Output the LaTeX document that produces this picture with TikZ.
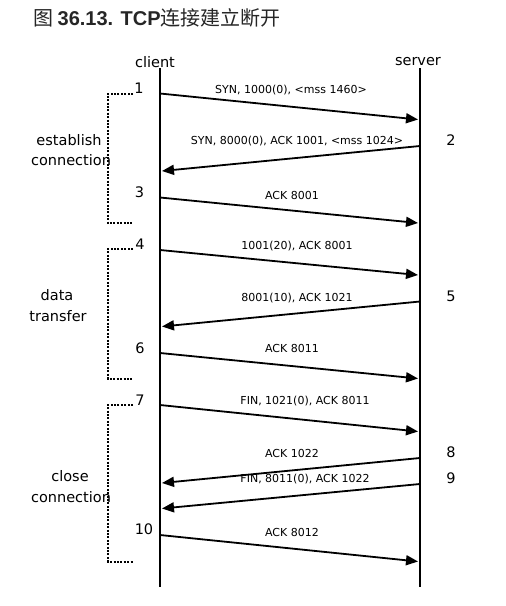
\documentclass[tikz,border=0pt]{standalone}
\usepackage{fontspec}
\setmainfont{DejaVu Sans}
\newfontfamily\cjk{Noto Sans CJK SC}
\newfontfamily\lib{Liberation Sans}
\usetikzlibrary{arrows.meta}
\begin{document}
\begin{tikzpicture}[x=1pt,y=-1pt,
  life/.style={line width=2.3pt},
  msg/.style={line width=1.8pt,-{Triangle[length=12pt,width=10pt]}},
  lbl/.style={inner sep=0pt,font=\fontsize{11}{13}\selectfont},
  num/.style={inner sep=0pt,font=\fontsize{14.5}{17}\selectfont},
  side/.style={inner sep=0pt,font=\fontsize{14.5}{17}\selectfont,align=center},
  brk/.style={line width=2pt,dash pattern=on 2pt off 1.4pt}]
\useasboundingbox (0,0) rectangle (506,606);
% title
\node[anchor=west,inner sep=0pt,text=black!85] (title) at (33,18)
  {\fontsize{20}{24}\selectfont\cjk 图 \lib\bfseries 36.13. TCP\mdseries\cjk 连接建立断开};
% lifelines
\node[num] (client) at (155,62) {client};
\node[num] (server) at (418,62) {server};
\coordinate (ctop) at (160,68);
\coordinate (cbot) at (160,587);
\coordinate (stop) at (420,68);
\coordinate (sbot) at (420,587);
\draw[life] (ctop) -- (cbot);
\draw[life] (stop) -- (sbot);
% message endpoints
\coordinate (a1) at (160,93.5);  \coordinate (b1) at (418,119.5);
\coordinate (a2) at (420,146);   \coordinate (b2) at (162,171);
\coordinate (a3) at (160,197.5); \coordinate (b3) at (418,223);
\coordinate (a4) at (160,250);   \coordinate (b4) at (418,275);
\coordinate (a5) at (420,301.5); \coordinate (b5) at (162,326.5);
\coordinate (a6) at (160,353);   \coordinate (b6) at (418,378.5);
\coordinate (a7) at (160,405);   \coordinate (b7) at (418,431.5);
\coordinate (a8) at (420,458);   \coordinate (b8) at (162,483);
\coordinate (a9) at (420,484);   \coordinate (b9) at (162,508.5);
\coordinate (a10) at (160,535);  \coordinate (b10) at (418,561.5);
\draw[msg] (a1) -- (b1);
\draw[msg] (a2) -- (b2);
\draw[msg] (a3) -- (b3);
\draw[msg] (a4) -- (b4);
\draw[msg] (a5) -- (b5);
\draw[msg] (a6) -- (b6);
\draw[msg] (a7) -- (b7);
\draw[msg] (a8) -- (b8);
\draw[msg] (a9) -- (b9);
\draw[msg] (a10) -- (b10);
% message labels
\node[lbl] (l1) at (291,90.5) {SYN, 1000(0), <mss 1460>};
\node[lbl] (l2) at (297,141.5) {SYN, 8000(0), ACK 1001, <mss 1024>};
\node[lbl] (l3) at (292,195) {ACK 8001};
\node[lbl] (l4) at (297,246) {1001(20), ACK 8001};
\node[lbl] (l5) at (297,298) {8001(10), ACK 1021};
\node[lbl] (l6) at (292,348.5) {ACK 8011};
\node[lbl] (l7) at (305,401.5) {FIN, 1021(0), ACK 8011};
\node[lbl] (l8) at (292,453) {ACK 1022};
\node[lbl] (l9) at (305,479) {FIN, 8011(0), ACK 1022};
\node[lbl] (l10) at (292,532) {ACK 8012};
% step numbers
\node[num] (n1) at (139,88.5) {1};
\node[num] (n2) at (451,140) {2};
\node[num] (n3) at (139.5,192.5) {3};
\node[num] (n4) at (140,244.5) {4};
\node[num] (n5) at (451,296.5) {5};
\node[num] (n6) at (140,348) {6};
\node[num] (n7) at (140,400) {7};
\node[num] (n8) at (451,452) {8};
\node[num] (n9) at (451,478) {9};
\node[num] (n10) at (144,529.5) {10};
% brackets
\coordinate (e1) at (133,93.5);  \coordinate (e2) at (108,93.5);
\coordinate (e3) at (108,223);   \coordinate (e4) at (133,223);
\draw[brk] (e1) -- (e2) -- (e3) -- (e4);
\coordinate (d1) at (133,249);   \coordinate (d2) at (108,249);
\coordinate (d3) at (108,378.5); \coordinate (d4) at (133,378.5);
\draw[brk] (d1) -- (d2) -- (d3) -- (d4);
\coordinate (f1) at (133,405);   \coordinate (f2) at (108,405);
\coordinate (f3) at (108,561.5); \coordinate (f4) at (133,561.5);
\draw[brk] (f1) -- (f2) -- (f3) -- (f4);
% side labels
\node[side] (est) at (69,140) {establish};
\node[side] (estc) at (71,160) {connection};
\node[side] (dat) at (57,295.5) {data};
\node[side] (datt) at (58,316) {transfer};
\node[side] (clo) at (70,476) {close};
\node[side] (cloc) at (71,497) {connection};
\end{tikzpicture}
\end{document}
